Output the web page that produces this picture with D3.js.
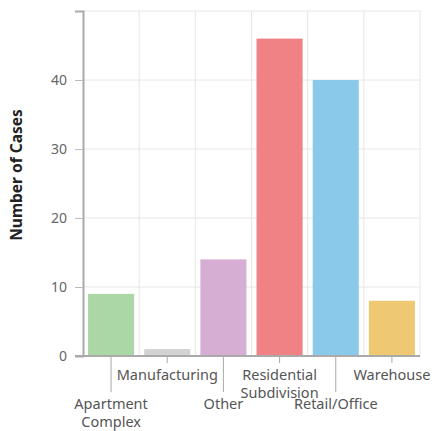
<!DOCTYPE html>
<html>
<head>
<meta charset="utf-8">
<script src="https://cdn.jsdelivr.net/npm/d3@7"></script>
<style>
  body { margin: 0; background: #fff; }
  text { font-family: "Noto Sans", "Open Sans", sans-serif; }
</style>
</head>
<body>
<script>
var categories = ['Apartment Complex', 'Manufacturing', 'Other', 'Residential Subdivision', 'Retail/Office', 'Warehouse']
var values = [9, 1, 14, 46, 40, 8]
var colors = ['#abd6a6', '#d2d2d2', '#d7aed3', '#f08184', '#8bc9eb', '#efc872']
var yTicks = [0, 10, 20, 30, 40]

var w = 436
var h = 431
var margin = { top: 11, right: 16, bottom: 75, left: 83 }
var width = w - margin.left - margin.right
var height = h - margin.top - margin.bottom

var svg = d3.select('body').append('svg')
  .attr('width', w)
  .attr('height', h)

var chart = svg.append('g')
  .attr('transform', 'translate(' + margin.left + ',' + margin.top + ')')

var x = d3.scaleBand()
  .domain(categories)
  .range([0, width])
  .paddingInner(0.18)
  .paddingOuter(0.09)

var y = d3.scaleLinear()
  .domain([0, 50])
  .range([height, 0])

// GRID
chart.selectAll('.hgrid')
  .data(yTicks.concat([50]))
  .enter().append('line')
  .attr('x1', 0).attr('x2', width)
  .attr('y1', function (d) { return y(d) })
  .attr('y2', function (d) { return y(d) })
  .attr('stroke', '#e6e6e6')

var step = width / categories.length
chart.selectAll('.vgrid')
  .data(d3.range(1, categories.length + 1))
  .enter().append('line')
  .attr('x1', function (d) { return d * step })
  .attr('x2', function (d) { return d * step })
  .attr('y1', 0).attr('y2', height)
  .attr('stroke', '#e6e6e6')

// BARS
chart.selectAll('.bar')
  .data(values)
  .enter().append('rect')
  .attr('x', function (d, i) { return x(categories[i]) })
  .attr('y', function (d) { return y(d) })
  .attr('width', x.bandwidth())
  .attr('height', function (d) { return height - y(d) })
  .attr('fill', function (d, i) { return colors[i] })

// Y AXIS
var yAxis = chart.append('g')
  .call(d3.axisLeft(y).tickValues(yTicks).tickSize(8).tickPadding(8).tickSizeOuter(8))
yAxis.select('.domain').attr('stroke', '#aaa').attr('stroke-width', 2)
yAxis.selectAll('.tick line').attr('stroke', '#bbb')
yAxis.selectAll('.tick text').attr('fill', '#666').style('font-size', '14px').style('font-family', '"Noto Sans", sans-serif')

// X AXIS
chart.append('line')
  .attr('x1', -8).attr('x2', width)
  .attr('y1', height).attr('y2', height)
  .attr('stroke', '#aaa').attr('stroke-width', 2)

var xt = chart.selectAll('.xtick')
  .data(categories)
  .enter().append('g')
  .attr('transform', function (d) { return 'translate(' + (x(d) + x.bandwidth() / 2) + ',' + height + ')' })

xt.append('line')
  .attr('y1', 0)
  .attr('y2', function (d, i) { return i % 2 === 0 ? 36 : 7 })
  .attr('stroke', '#aaa')

xt.append('text')
  .attr('text-anchor', 'middle')
  .attr('fill', '#555')
  .style('font-size', '14.5px')
  .each(function (d, i) {
    var words = d === 'Retail/Office' || d === 'Other' || d === 'Manufacturing' || d === 'Warehouse' ? [d] : d.split(' ')
    var base = i % 2 === 0 ? 53 : 24
    var t = d3.select(this)
    words.forEach(function (wd, j) {
      t.append('tspan').attr('x', 0).attr('y', base + j * 18).text(wd)
    })
  })

// Y TITLE
svg.append('text')
  .attr('transform', 'translate(22,' + 175 + ') rotate(-90)')
  .attr('text-anchor', 'middle')
  .attr('fill', '#222')
  .style('font-size', '15.5px')
  .style('font-weight', 'bold')
  .text('Number of Cases')
</script>
</body>
</html>
